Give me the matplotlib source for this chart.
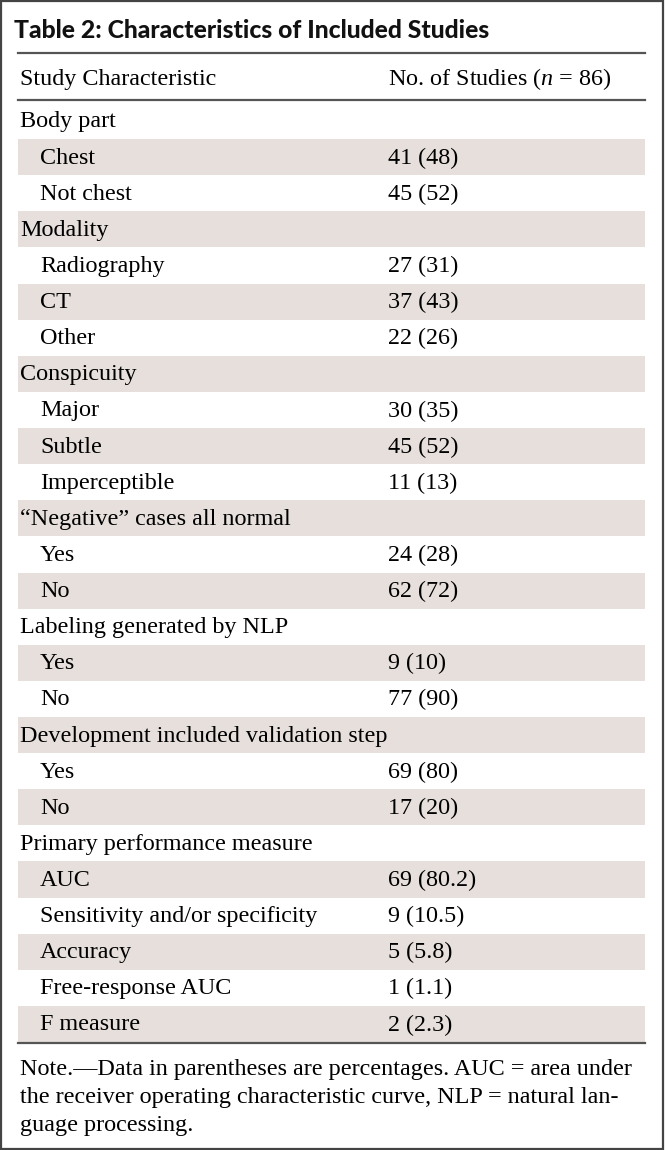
import matplotlib
matplotlib.use("Agg")
import matplotlib.pyplot as plt
from matplotlib.patches import Rectangle

# данные таблицы
title = "Table 2: Characteristics of Included Studies"
col_headers = ["Study Characteristic", "No. of Studies ($n$ = 86)"]
headings = ["Body part", "Modality", "Conspicuity",
            "\u201cNegative\u201d cases all normal",
            "Labeling generated by NLP",
            "Development included validation step",
            "Primary performance measure"]
items = [["Chest", "Not chest"],
         ["Radiography", "CT", "Other"],
         ["Major", "Subtle", "Imperceptible"],
         ["Yes", "No"],
         ["Yes", "No"],
         ["Yes", "No"],
         ["AUC", "Sensitivity and/or specificity", "Accuracy",
          "Free-response AUC", "F measure"]]
counts = [[41, 45], [27, 37, 22], [30, 45, 11], [24, 62], [9, 77], [69, 17],
          [69, 9, 5, 1, 2]]
percents = [[48, 52], [31, 43, 26], [35, 52, 13], [28, 72], [10, 90], [80, 20],
            [80.2, 10.5, 5.8, 1.1, 2.3]]
pct_decimals = [0, 0, 0, 0, 0, 0, 1]
note = ["Note.\u2014Data in parentheses are percentages. AUC = area under",
        "the receiver operating characteristic curve, NLP = natural lan-",
        "guage processing."]

plt.rcParams["mathtext.fontset"] = "custom"
plt.rcParams["mathtext.rm"] = "Liberation Serif"
plt.rcParams["mathtext.it"] = "Liberation Serif:italic"

serif = "Liberation Serif"
fs = 17.4
shade = "#e6dfdc"
line_c = "#555555"

fig = plt.figure(figsize=(6.66, 11.5), dpi=100)
ax = fig.add_axes([0, 0, 1, 1])
ax.set_xlim(0, 666)
ax.set_ylim(1150, 0)
ax.axis("off")

x0, x1 = 18, 645
x_label, x_indent, x_val = 20, 40, 388

# заголовок
ax.text(14, 30, title, fontsize=17.8, fontweight="black", family="Lato",
        va="center", ha="left", color="#111111")
ax.plot([x0, x1], [53, 53], color=line_c, lw=1.6)
ax.text(x_label, 79, col_headers[0], fontsize=fs, family=serif, va="center")
ax.text(x_val, 79, col_headers[1], fontsize=fs, family=serif, va="center")
ax.plot([x0, x1], [100, 100], color=line_c, lw=1.6)

# строки
row_h = 36.12
y = 121
i = 0
for h, its, cs, ps, d in zip(headings, items, counts, percents, pct_decimals):
    rows = [(h, "", x_label)]
    for it, c, p in zip(its, cs, ps):
        rows.append((it, f"{c} ({p:.{d}f})", x_indent))
    for lab, val, xl in rows:
        if i % 2 == 1:
            ax.add_patch(Rectangle((x0, y - row_h / 2), x1 - x0, row_h,
                                   facecolor=shade, edgecolor="none", zorder=0))
        ax.text(xl, y + 1, lab, fontsize=fs, family=serif, va="center")
        if val:
            ax.text(x_val, y + 1, val, fontsize=fs, family=serif, va="center")
        y += row_h
        i += 1

y_bot = y - row_h / 2 + 1
ax.plot([x0, x1], [y_bot, y_bot], color=line_c, lw=1.6)

# примечание
for k, line in enumerate(note):
    ax.text(x_label, 1069 + k * 28, line, fontsize=fs, family=serif, va="center")

# рамка
fig.patches.append(Rectangle((0.002, 0.001), 0.994, 0.998, transform=fig.transFigure,
                             fill=False, edgecolor="#444444", lw=1.6))

fig.savefig("out.png", dpi=100)
